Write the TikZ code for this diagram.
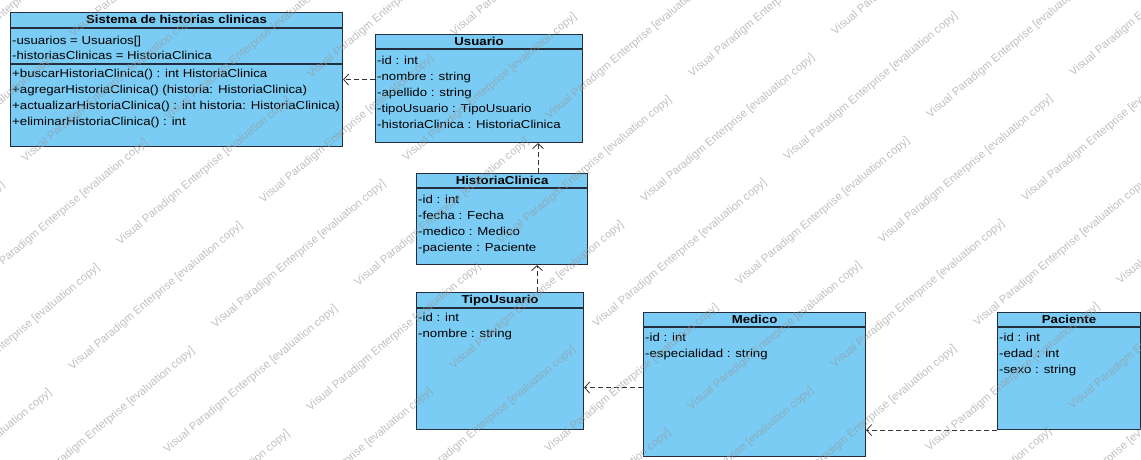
\documentclass[tikz,border=0pt]{standalone}
\usepackage{graphicx}
\usepackage{fontspec}
\setmainfont{Liberation Sans}[FakeStretch=1.15]
\newfontfamily\marcafont{Liberation Sans}
\usetikzlibrary{arrows.meta, positioning, calc}

\definecolor{umlfill}{RGB}{122,204,244}
\definecolor{umlline}{RGB}{35,45,60}
\definecolor{marca}{RGB}{150,150,150}

\begin{document}
\begin{tikzpicture}[
      x=1pt, y=-1pt,
      font=\fontsize{11.5}{16}\selectfont,
      classbox/.style={draw=umlline, fill=umlfill, line width=1.1pt, anchor=north west, inner sep=0pt},
      classname/.style={anchor=north, font=\fontsize{11.5}{16}\selectfont\bfseries, minimum height=16pt, text height=8pt, text depth=2pt, inner sep=0pt},
      members/.style={anchor=north west, align=left, inner sep=0pt},
      sepline/.style={draw=umlline, line width=1.1pt},
      dep/.style={draw=black!80, line width=0.8pt, dash pattern=on 5pt off 3pt, -{Straight Barb[length=5pt, width=11pt]}},
      watermark/.style={text=marca, opacity=0.6, anchor=base west, inner sep=0pt, font=\marcafont\fontsize{11.2}{12}\selectfont},
  ]

  \useasboundingbox (0,0) rectangle (1141,459);
  \fill[white] (0,0) rectangle (1141,459);

  % --- Sistema de historias clinicas ---
  \node[classbox, minimum width=332pt, minimum height=134pt] (sistema) at (10,12) {};
  \node[classname] (sistemaname) at (sistema.north) {Sistema de historias clinicas};
  \draw[sepline] ([yshift=-16pt]sistema.north west) -- ([yshift=-16pt]sistema.north east);
  \node[members, font=\fontsize{11.5}{15}\selectfont] (sistemaattr) at ([shift={(2pt,-24pt)}]sistema.north west) {
      -usuarios = Usuarios[] \\
      -historiasClinicas = HistoriaClinica
  };
  \draw[sepline] ([yshift=-52pt]sistema.north west) -- ([yshift=-52pt]sistema.north east);
  \node[members] (sistemaops) at ([shift={(2pt,-57pt)}]sistema.north west) {
      +buscarHistoriaClinica() : int HistoriaClinica \\
      +agregarHistoriaClinica() (historia: HistoriaClinica) \\
      +actualizarHistoriaClinica() : int historia: HistoriaClinica) \\
      +eliminarHistoriaClinica() : int
  };

  % --- Usuario ---
  \node[classbox, minimum width=207pt, minimum height=108pt] (usuario) at (375,34) {};
  \node[classname] (usuarioname) at (usuario.north) {Usuario};
  \draw[sepline] ([yshift=-15pt]usuario.north west) -- ([yshift=-15pt]usuario.north east);
  \node[members] (usuarioattr) at ([shift={(2pt,-22pt)}]usuario.north west) {
      -id : int \\
      -nombre : string \\
      -apellido : string \\
      -tipoUsuario : TipoUsuario \\
      -historiaClinica : HistoriaClinica
  };

  % --- HistoriaClinica ---
  \node[classbox, minimum width=171pt, minimum height=91pt] (historia) at (416,173) {};
  \node[classname] (historianame) at (historia.north) {HistoriaClinica};
  \draw[sepline] ([yshift=-15pt]historia.north west) -- ([yshift=-15pt]historia.north east);
  \node[members] (historiaattr) at ([shift={(2pt,-22pt)}]historia.north west) {
      -id : int \\
      -fecha : Fecha \\
      -medico : Medico \\
      -paciente : Paciente
  };

  % --- TipoUsuario ---
  \node[classbox, minimum width=167pt, minimum height=137pt] (tipo) at (416,292) {};
  \node[classname] (tiponame) at (tipo.north) {TipoUsuario};
  \draw[sepline] ([yshift=-16pt]tipo.north west) -- ([yshift=-16pt]tipo.north east);
  \node[members] (tipoattr) at ([shift={(2pt,-21pt)}]tipo.north west) {
      -id : int \\
      -nombre : string
  };

  % --- Medico ---
  \node[classbox, minimum width=222pt, minimum height=144pt] (medico) at (643,312) {};
  \node[classname] (mediconame) at (medico.north) {Medico};
  \draw[sepline] ([yshift=-15pt]medico.north west) -- ([yshift=-15pt]medico.north east);
  \node[members] (medicoattr) at ([shift={(2pt,-21pt)}]medico.north west) {
      -id : int \\
      -especialidad : string
  };

  % --- Paciente ---
  \node[classbox, minimum width=143pt, minimum height=117pt] (paciente) at (997,312) {};
  \node[classname] (pacientename) at (paciente.north) {Paciente};
  \draw[sepline] ([yshift=-15pt]paciente.north west) -- ([yshift=-15pt]paciente.north east);
  \node[members] (pacienteattr) at ([shift={(2pt,-21pt)}]paciente.north west) {
      -id : int \\
      -edad : int \\
      -sexo : string
  };

  % --- Dependencies ---
  \draw[dep] (sistema.east -| usuario.west) -- (sistema.east);
  \draw[dep] ([xshift=36pt]historia.north) -- ([xshift=36pt]historia.north |- usuario.south);
  \draw[dep] ([xshift=37pt]tipo.north) -- ([xshift=37pt]tipo.north |- historia.south);
  \draw[dep] ([yshift=-3pt]medico.west) -- ([yshift=-3pt]medico.west -| tipo.east);
  \draw[dep] (paciente.south west) -- (paciente.south west -| medico.east);

  % --- Watermark ---
  \begin{scope}
    \clip (0,0) rectangle (1141,459);
    \foreach \i in {-4,...,10} {
      \foreach \j in {-6,...,6} {
        \node[watermark] (marca-\i-\j) at ({67+143*\i+95*\j},{370-42*\i+83*\j}) {\rotatebox{40}{Visual Paradigm Enterprise [evaluation copy]}};
      }
    }
  \end{scope}

\end{tikzpicture}
\end{document}
